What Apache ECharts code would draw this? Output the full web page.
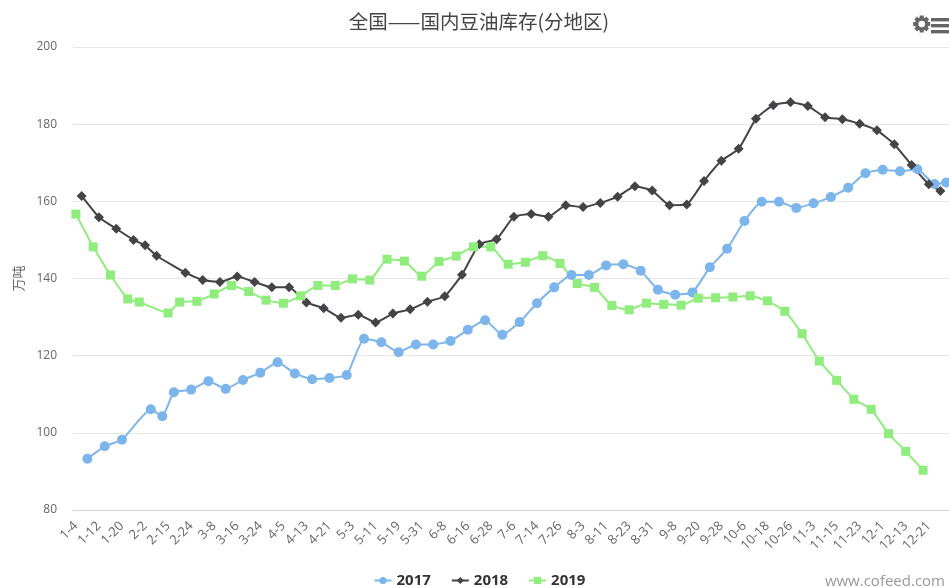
<!DOCTYPE html>
<html>
<head>
<meta charset="utf-8">
<title>全国——国内豆油库存(分地区)</title>
<style>
  html, body { margin: 0; padding: 0; background: #fff; overflow: hidden; }
  #chart { width: 949px; height: 588px; }
</style>
<script src="https://cdn.jsdelivr.net/npm/echarts@6/dist/echarts.min.js"></script>
</head>
<body>
<div id="chart"></div>
<script>
// labelled dates, one every 4 categories
const tickLabels = ['1-4', '1-12', '1-20', '2-2', '2-15', '2-24', '3-8', '3-16', '3-24', '4-5', '4-13', '4-21',
  '5-3', '5-11', '5-19', '5-31', '6-8', '6-16', '6-28', '7-6', '7-14', '7-26', '8-3', '8-11', '8-23', '8-31',
  '9-8', '9-20', '9-28', '10-6', '10-18', '10-26', '11-3', '11-15', '11-23', '12-1', '12-13', '12-21']

// [category index, 万吨]
const values2017 = [[2, 93.3], [5, 96.5], [8, 98.2], [13, 106.1], [15, 104.3], [17, 110.5], [20, 111.2], [23, 113.4],
  [26, 111.4], [29, 113.7], [32, 115.6], [35, 118.3], [38, 115.4], [41, 113.9], [44, 114.2], [47, 115.0], [50, 124.4],
  [53, 123.5], [56, 120.9], [59, 122.9], [62, 122.9], [65, 123.8], [68, 126.7], [71, 129.2], [74, 125.4], [77, 128.7],
  [80, 133.6], [83, 137.7], [86, 140.9], [89, 140.9], [92, 143.4], [95, 143.7], [98, 142.0], [101, 137.1], [104, 135.8],
  [107, 136.4], [110, 142.9], [113, 147.7], [116, 154.9], [119, 159.9], [122, 159.9], [125, 158.3], [128, 159.5],
  [131, 161.1], [134, 163.5], [137, 167.3], [140, 168.2], [143, 167.8], [146, 168.3], [149, 164.5], [151, 164.9]]
const values2018 = [[1, 161.4], [4, 155.9], [7, 152.9], [10, 150.0], [12, 148.6], [14, 145.9], [19, 141.5], [22, 139.6],
  [25, 139.1], [28, 140.5], [31, 139.1], [34, 137.7], [37, 137.7], [40, 133.8], [43, 132.3], [46, 129.8], [49, 130.6],
  [52, 128.6], [55, 130.9], [58, 132.0], [61, 134.0], [64, 135.4], [67, 141.0], [70, 148.9], [73, 150.2], [76, 156.0],
  [79, 156.7], [82, 156.0], [85, 159.0], [88, 158.5], [91, 159.6], [94, 161.2], [97, 163.9], [100, 162.8], [103, 159.0],
  [106, 159.2], [109, 165.3], [112, 170.5], [115, 173.6], [118, 181.4], [121, 184.9], [124, 185.7], [127, 184.7],
  [130, 181.8], [133, 181.3], [136, 180.1], [139, 178.4], [142, 174.8], [145, 169.4], [148, 164.4], [150, 162.7]]
const values2019 = [[0, 156.7], [3, 148.2], [6, 140.9], [9, 134.7], [11, 133.9], [16, 131.05], [18, 133.9], [21, 134.1],
  [24, 136.0], [27, 138.2], [30, 136.6], [33, 134.4], [36, 133.6], [39, 135.5], [42, 138.2], [45, 138.2], [48, 139.9],
  [51, 139.6], [54, 145.0], [57, 144.5], [60, 140.6], [63, 144.4], [66, 145.8], [69, 148.2], [72, 148.2], [75, 143.7],
  [78, 144.2], [81, 145.9], [84, 143.9], [87, 138.7], [90, 137.7], [93, 133.0], [96, 131.9], [99, 133.6], [102, 133.3],
  [105, 133.1], [108, 134.9], [111, 135.0], [114, 135.2], [117, 135.5], [120, 134.2], [123, 131.5], [126, 125.7],
  [129, 118.6], [132, 113.6], [135, 108.7], [138, 106.1], [141, 99.8], [144, 95.2], [147, 90.3]]

const categories = []
tickLabels.forEach(label => categories.push(label, '', '', ''))

const FONT = '"Open Sans", sans-serif'
const CJK = '"Noto Sans CJK SC", sans-serif'

function lineSeries(name, data, symbol, symbolSize, color) {
  return {
    name, data, symbol, symbolSize, type: 'line', smooth: 0.15, showSymbol: true, showAllSymbol: true,
    lineStyle: { color, width: 2 },
    itemStyle: { color }
  }
}

// gear and menu icons at the top right
const gearTeeth = []
for (let i = 0; i < 8; i++) {
  gearTeeth.push({
    type: 'rect', originX: 921.7, originY: 24, rotation: i * Math.PI / 4,
    shape: { x: 919.7, y: 15.5, width: 4, height: 4 }, style: { fill: '#666' }
  })
}

const chart = echarts.init(document.getElementById('chart'))
chart.setOption({
  animation: false,
  backgroundColor: '#fff',
  title: {
    text: '全国——国内豆油库存(分地区)',
    left: 474, top: 7, textAlign: 'center',
    textStyle: { color: '#444', fontSize: 19.5, fontWeight: 'normal', fontFamily: CJK }
  },
  legend: {
    bottom: 0, left: 373.5, itemWidth: 17, itemHeight: 9, itemGap: 20, padding: 0,
    textStyle: { color: '#333', fontSize: 15, fontWeight: 'bold', fontFamily: FONT }
  },
  grid: { left: 73, top: 47, width: 876.7, height: 463, containLabel: false },
  xAxis: {
    type: 'category',
    data: categories,
    axisLine: { lineStyle: { color: '#ccd6eb', width: 1 } },
    axisTick: { alignWithLabel: true, interval: 3, length: 10, lineStyle: { color: '#ccd6eb' } },
    axisLabel: { interval: 3, rotate: 45, margin: 14, color: '#666', fontSize: 13, fontFamily: FONT },
    splitLine: { show: false }
  },
  yAxis: {
    type: 'value', min: 80, max: 200, interval: 20,
    name: '万吨', nameLocation: 'middle', nameRotate: 90, nameGap: 48,
    nameTextStyle: { color: '#666', fontSize: 13, fontFamily: CJK },
    axisLine: { show: false },
    axisTick: { show: false },
    axisLabel: { color: '#666', fontSize: 12, margin: 16, fontFamily: FONT },
    splitLine: { lineStyle: { color: '#e6e6e6', width: 1 } }
  },
  series: [
    lineSeries('2017', values2017, 'circle', 10, '#7cb5ec'),
    lineSeries('2018', values2018, 'diamond', 10, '#434348'),
    lineSeries('2019', values2019, 'rect', 9, '#90ed7d')
  ],
  graphic: [
    {
      type: 'text', right: 4, bottom: -1,
      style: { text: 'www.cofeed.com', fill: '#999', font: '15px ' + FONT }
    }
  ].concat(gearTeeth, [
    { type: 'circle', shape: { cx: 921.7, cy: 24, r: 5 }, style: { fill: '#fff', stroke: '#666', lineWidth: 3.4 } },
    { type: 'rect', shape: { x: 931, y: 18, width: 18, height: 3.4 }, style: { fill: '#666' } },
    { type: 'rect', shape: { x: 931, y: 24, width: 18, height: 3.4 }, style: { fill: '#666' } },
    { type: 'rect', shape: { x: 931, y: 30, width: 18, height: 3.4 }, style: { fill: '#666' } }
  ])
})
window.addEventListener('resize', () => chart.resize())
</script>
</body>
</html>
